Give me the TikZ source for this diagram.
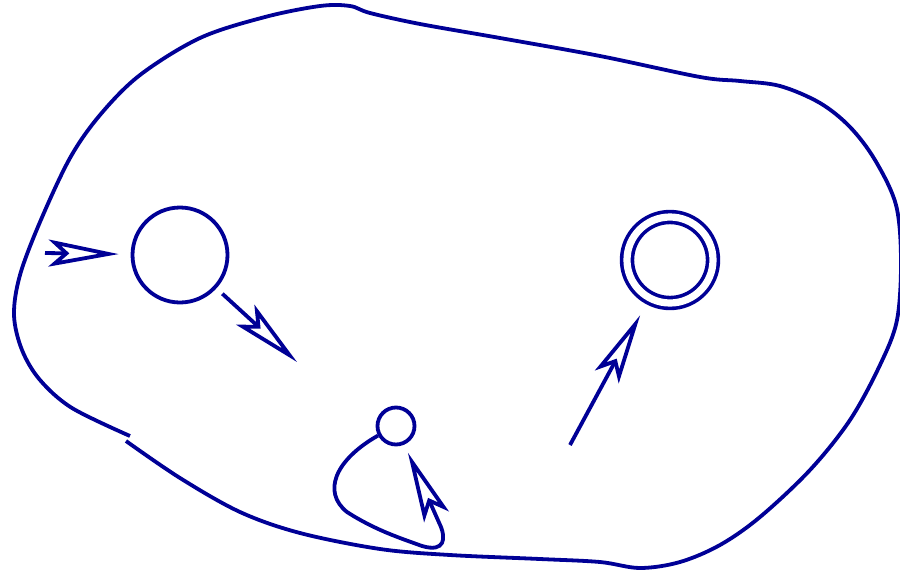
\documentclass[tikz,border=0pt]{standalone}
\usepackage{tikz}
\usetikzlibrary{arrows.meta}
\definecolor{DeepBlue}{RGB}{0,0,150}

\begin{document}
\begin{tikzpicture}[
    x=1pt,y=-1pt,
    >={Stealth[open,length=70pt,width=27pt,inset=15pt]},
    state/.style={circle,draw=DeepBlue,line width=3.8pt,inner sep=0pt,minimum size=95pt},
    small/.style={state,minimum size=37pt},
    final/.style={state,minimum size=86pt,line width=3.6pt,double,double distance=7.2pt},
    trans/.style={line width=3.8pt,DeepBlue,->},
    blob/.style={line width=3.8pt,DeepBlue}
  ]
    \useasboundingbox (0,0) rectangle (900,571);

    % the region
    \draw[blob] plot[smooth,tension=0.55] coordinates {
      (126,441) (180,478) (240,512) (300,533) (380,549) (450,555) (540,559)
      (600,562) (640,568) (680,562) (720,545) (760,517) (810,470) (850,420)
      (880,365) (897,320) (901,260) (896,205) (875,160) (850,127) (820,103)
      (780,86) (740,81) (700,77) (600,56) (500,38) (420,24) (370,13) (350,6)
      (320,6) (265,17) (200,38) (140,75) (100,115) (70,158) (40,222)
      (20,275) (14,315) (22,350) (40,380) (72,408) (130,436)};

    % states
    \node[state] (start) at (180,255) {};
    \node[small] (loop) at (396,426) {};
    \node[final] (accept) at (670,260) {};

    \coordinate (enter) at (45,253);
    \coordinate (leave) at (297,362);
    \coordinate (comein) at (570,445);

    % transitions
    \draw[trans,shorten >=12pt] (enter) -- (start);
    \draw[trans,shorten <=8pt] (start) -- (leave);
    \draw[trans,shorten >=18pt] (comein) -- (accept);
    \draw[trans,shorten >=9pt] (loop.208) .. controls (335,460) and (322,492) .. (347,512)
      .. controls (375,530) and (400,538) .. (422,546)
      .. controls (446,553) and (445,537) .. (441,527) -- (loop);
  \end{tikzpicture}
\end{document}
